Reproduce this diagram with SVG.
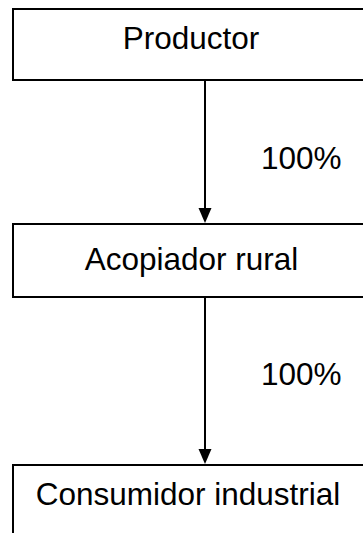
<svg xmlns="http://www.w3.org/2000/svg" width="363" height="533" viewBox="0 0 363 533">
<style>
.box{fill:#fff;stroke:#000;stroke-width:2}
.lbl{font-family:"Liberation Sans",Arial,sans-serif;font-size:31.5px;fill:#000;text-anchor:middle}
.pct{font-family:"Liberation Sans",Arial,sans-serif;font-size:31.5px;fill:#000}
.edge{stroke:#000;stroke-width:2;fill:none}
.head{fill:#000}
</style>
<rect width="363" height="533" fill="#fff"/>
<g id="n1"><rect class="box" x="13" y="9" width="370" height="71"/><text class="lbl" x="191" y="49">Productor</text></g>
<g id="n2"><rect class="box" x="13" y="224" width="370" height="73"/><text class="lbl" x="191.5" y="270">Acopiador rural</text></g>
<g id="n3"><rect class="box" x="13" y="465" width="370" height="90"/><text class="lbl" x="188" y="505">Consumidor industrial</text></g>
<g id="edges">
<line class="edge" x1="205" y1="80" x2="205" y2="210"/>
<path class="head" d="M198.5,208 L211.5,208 L205,223 Z"/>
<line class="edge" x1="205" y1="297" x2="205" y2="450"/>
<path class="head" d="M198.5,449 L211.5,449 L205,464 Z"/>
<text class="pct" x="261" y="169">100%</text>
<text class="pct" x="261" y="385">100%</text>
</g>
</svg>
